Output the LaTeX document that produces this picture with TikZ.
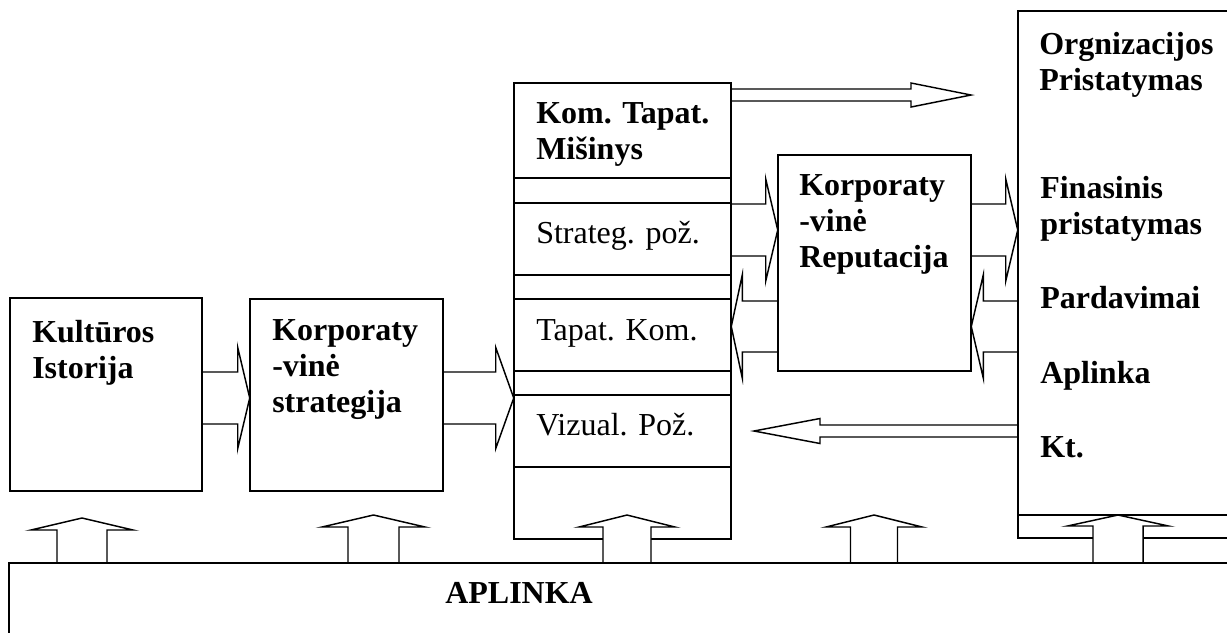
\documentclass[tikz,border=0pt]{standalone}
\usepackage{fontspec}
\setmainfont{Liberation Serif}
\usetikzlibrary{calc,fit}

% left-aligned stack of lines whose baseline is that of the first line
\newcommand{\stackL}[1]{\vtop{\halign{##\hfil\cr#1\crcr}}}

% horizontal block arrow: start, tip, shaft half-width, head half-width, head length (negative = points left)
\newcommand{\harrow}[5]{%
  \draw[blockarrow] ($(#1)+(0,{-(#3)})$) -- ($(#2)+({-(#5)},{-(#3)})$) -- ($(#2)+({-(#5)},{-(#4)})$)
    -- (#2) -- ($(#2)+({-(#5)},{#4})$) -- ($(#2)+({-(#5)},{#3})$) -- ($(#1)+(0,{#3})$);}
% vertical block arrow pointing up: start, tip, shaft half-width, head half-width, head length
\newcommand{\varrow}[5]{%
  \draw[blockarrow] ($(#1)+({-(#3)},0)$) -- ($(#2)+({-(#3)},{#5})$) -- ($(#2)+({-(#4)},{#5})$)
    -- (#2) -- ($(#2)+({#4},{#5})$) -- ($(#2)+({#3},{#5})$) -- ($(#1)+({#3},0)$);}

\tikzset{
  box/.style={draw, line width=1.4pt, inner sep=0pt},
  boxline/.style={line width=1.4pt},
  blockarrow/.style={draw, line width=1.1pt, fill=white, line join=miter},
  lbl/.style={anchor=base west, inner sep=0pt, font=\fontsize{24}{27.2}\selectfont\bfseries},
  lblr/.style={anchor=base west, inner sep=0pt, font=\fontsize{24}{27.2}\selectfont},
}

\begin{document}
\begin{tikzpicture}[x=0.75pt, y=-0.75pt]
\useasboundingbox (0,0) rectangle (1227,632);
\clip (0,0) rectangle (1227,632);

% box outlines (fit only sets geometry; borders are drawn later)
\node[inner sep=0pt, fit={(10,298)(202,491)}] (kult) {};
\node[inner sep=0pt, fit={(250,299)(443,491)}] (korp) {};
\node[inner sep=0pt, fit={(514,83)(731,539)}] (mid) {};
\node[inner sep=0pt, fit={(778,155)(971,371)}] (rep) {};
\node[inner sep=0pt, fit={(1018,11)(1260,538)}] (org) {};
\node[inner sep=0pt, fit={(9,563)(1260,660)}] (apl) {};

% rows the arrows run along
\coordinate (rowA) at (0,398);
\coordinate (rowB) at (0,230);
\coordinate (rowC) at (0,326.5);
\coordinate (rowT) at (0,95);
\coordinate (rowV) at (0,431);
\coordinate (topend) at (971,95);
\coordinate (longend) at (754,431);

% horizontal arrows
\harrow{kult.east |- rowA}{korp.west |- rowA}{26}{50.5}{12}
\harrow{korp.east |- rowA}{mid.west |- rowA}{26}{50.5}{18}
\harrow{mid.east |- rowB}{rep.west |- rowB}{26}{51}{12}
\harrow{rep.west |- rowC}{mid.east |- rowC}{25.5}{51.5}{-11}
\harrow{rep.east |- rowB}{org.west |- rowB}{26}{51}{12}
\harrow{org.west |- rowC}{rep.east |- rowC}{25.5}{51.5}{-12}
\harrow{mid.east |- rowT}{topend}{6}{12}{60}
\harrow{org.west |- rowV}{longend}{6}{12.5}{-66}

% boxes
\draw[box] (kult.south west) rectangle (kult.north east);
\draw[box] (korp.south west) rectangle (korp.north east);
\draw[box] (rep.south west) rectangle (rep.north east);
\draw[box] (mid.south west) rectangle (mid.north east);
\node[box, fit={(514,83)(731,178)}] (komtap) {};
\node[box, fit={(514,203)(731,275)}] (strat) {};
\node[box, fit={(514,299)(731,371)}] (tapkom) {};
\node[box, fit={(514,395)(731,467)}] (vizual) {};
\draw[box] (org.south west) rectangle (org.north east);
\coordinate (orgfoot) at (0,515);
\draw[boxline] (org.west |- orgfoot) -- (org.east |- orgfoot);

% upward arrows from the environment
\coordinate (u1) at (82,518);
\coordinate (u2) at (373.5,515);
\coordinate (u3) at (627,515);
\coordinate (u4) at (874,515);
\coordinate (u5) at (1118,515);
\varrow{u1 |- apl.north}{u1}{25}{51}{12}
\varrow{u2 |- apl.north}{u2}{25.5}{51.5}{12}
\varrow{u3 |- apl.north}{u3}{24}{48}{12}
\varrow{u4 |- apl.north}{u4}{23.5}{48}{12}
\varrow{u5 |- apl.north}{u5}{25}{50.5}{11}
\draw[box] (apl.south west) rectangle (apl.north east);

% labels
\node[lbl] (t-kult) at (32,342) {\stackL{Kultūros\cr Istorija}};
\node[lbl] (t-korp) at (272,340) {\stackL{Korporaty\cr -vinė\cr strategija}};
\node[lbl] (t-komtap) at (536,123) {\stackL{Kom. Tapat.\cr Mišinys}};
\node[lblr] (t-strat) at (536,243) {Strateg. pož.};
\node[lblr] (t-tapkom) at (536,340) {Tapat. Kom.};
\node[lblr] (t-vizual) at (536,435) {Vizual. Pož.};
\node[lbl] (t-rep) at (799,195) {\stackL{Korporaty\cr -vinė\cr Reputacija}};
\node[lbl] (t-org) at (1039,54) {\stackL{Orgnizacijos\cr Pristatymas}};
\node[lbl] (t-fin) at (1040,198) {\stackL{Finasinis\cr pristatymas}};
\node[lbl] (t-pard) at (1040,308) {Pardavimai};
\node[lbl] (t-apl2) at (1040,383) {Aplinka};
\node[lbl] (t-kt) at (1040,457) {Kt.};
\node[lbl] (t-apl) at (445,603) {APLINKA};
\end{tikzpicture}
\end{document}
